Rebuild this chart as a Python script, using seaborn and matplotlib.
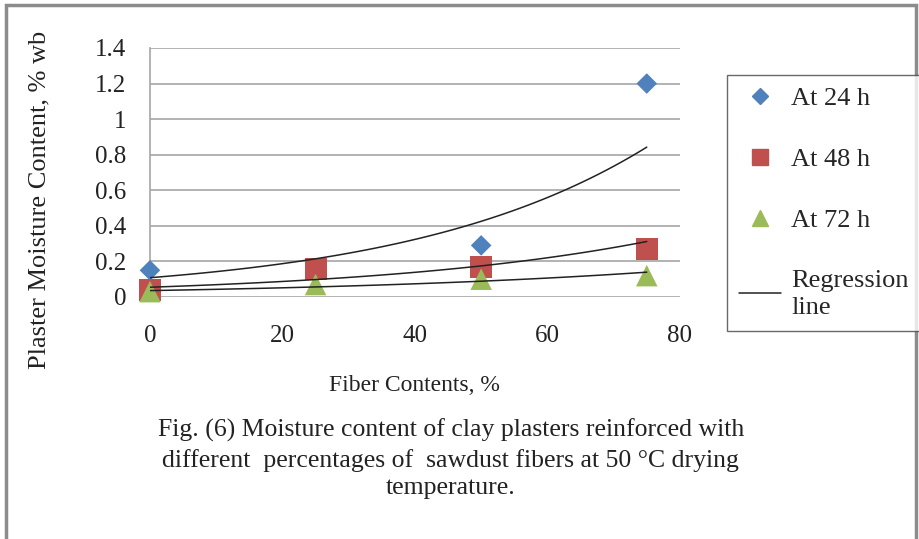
import numpy as np
import pandas as pd
import seaborn as sns
import matplotlib.pyplot as plt
from matplotlib.lines import Line2D
from matplotlib.patches import Rectangle

# data
fiber = [0, 25, 50, 75]
at_24h = [0.15, 0.16, 0.29, 1.20]
at_48h = [0.04, 0.16, 0.17, 0.27]
at_72h = [0.03, 0.07, 0.10, 0.12]
series_names = ["At 24 h", "At 48 h", "At 72 h"]

df = pd.DataFrame({
    "fiber": fiber * 3,
    "moisture": at_24h + at_48h + at_72h,
    "series": [s for s in series_names for _ in fiber],
})

sns.set_style("white")
plt.rcParams['font.family'] = ['Liberation Serif', 'DejaVu Serif']

colors = {"At 24 h": "#4F81BD", "At 48 h": "#C0504D", "At 72 h": "#9BBB59"}
markers = {"At 24 h": "D", "At 48 h": "s", "At 72 h": "^"}
sizes = {"At 24 h": 110, "At 48 h": 250, "At 72 h": 240}

fig = plt.figure(figsize=(9.2, 5.39), dpi=100)
ax = fig.add_axes([0.163, 0.449, 0.576, 0.462])

for name in series_names:
    sub = df[df["series"] == name]
    sns.scatterplot(data=sub, x="fiber", y="moisture", ax=ax, color=colors[name],
                    marker=markers[name], s=sizes[name], edgecolor="none",
                    zorder=3, legend=False, clip_on=False)

# exponential regression lines (Excel style trendlines)
xs = np.linspace(0, 75, 100)
for name in series_names:
    sub = df[df["series"] == name]
    b, lna = np.polyfit(sub["fiber"], np.log(sub["moisture"]), 1)
    ax.plot(xs, np.exp(lna) * np.exp(b * xs), color="#222222", lw=1.1, zorder=4)

ax.set_xlim(0, 80)
ax.set_ylim(0, 1.4)
ax.set_xticks([0, 20, 40, 60, 80])
ax.set_yticks(np.arange(0, 1.41, 0.2))
ax.set_yticklabels(["0", "0.2", "0.4", "0.6", "0.8", "1", "1.2", "1.4"])
ax.yaxis.grid(True, color="#A6A6A6", lw=1.2)
ax.set_axisbelow(True)
for side in ["top", "right", "bottom"]:
    ax.spines[side].set_visible(False)
ax.spines["left"].set_color("#A6A6A6")
ax.spines["left"].set_linewidth(1.2)
ax.tick_params(axis="y", length=0, labelsize=18, colors="#222222", pad=17)
ax.tick_params(axis="x", length=0, labelsize=18, colors="#222222", pad=20)

ax.set_xlabel("Fiber Contents, %", fontsize=17, labelpad=20, color="#222222")
ax.set_ylabel("Plaster Moisture Content, % wb", fontsize=19, color="#222222")
ax.yaxis.set_label_coords(-0.187, 0.39)

handles = [
    Line2D([], [], ls="none", marker="D", ms=8, color=colors["At 24 h"]),
    Line2D([], [], ls="none", marker="s", ms=12, color=colors["At 48 h"]),
    Line2D([], [], ls="none", marker="^", ms=12, color=colors["At 72 h"]),
    Line2D([], [], color="#222222", lw=1.1),
]
labels = ["At 24 h", "At 48 h", "At 72 h", "Regression\nline"]
leg = fig.legend(handles, labels, loc="upper left", bbox_to_anchor=(0.790, 0.861),
                 fontsize=19, frameon=True, fancybox=False, edgecolor="#444444",
                 labelspacing=1.42, handlelength=1.6, handletextpad=0.4,
                 borderpad=0.45, borderaxespad=0)
leg.get_frame().set_linewidth(1.0)
for t in leg.get_texts():
    t.set_linespacing(1.3)

caption = ("Fig. (6) Moisture content of clay plasters reinforced with\n"
           "different  percentages of  sawdust fibers at 50 \u00b0C drying\n"
           "temperature.")
fig.text(0.49, 0.148, caption, ha="center", va="center", fontsize=18.5,
         color="#222222", linespacing=1.34)

fig.patches.append(Rectangle((0.006, -0.02), 0.99, 1.01, transform=fig.transFigure,
                             fill=False, edgecolor="#8C8C8C", lw=2.5))

fig.savefig("out.png", dpi=100)
